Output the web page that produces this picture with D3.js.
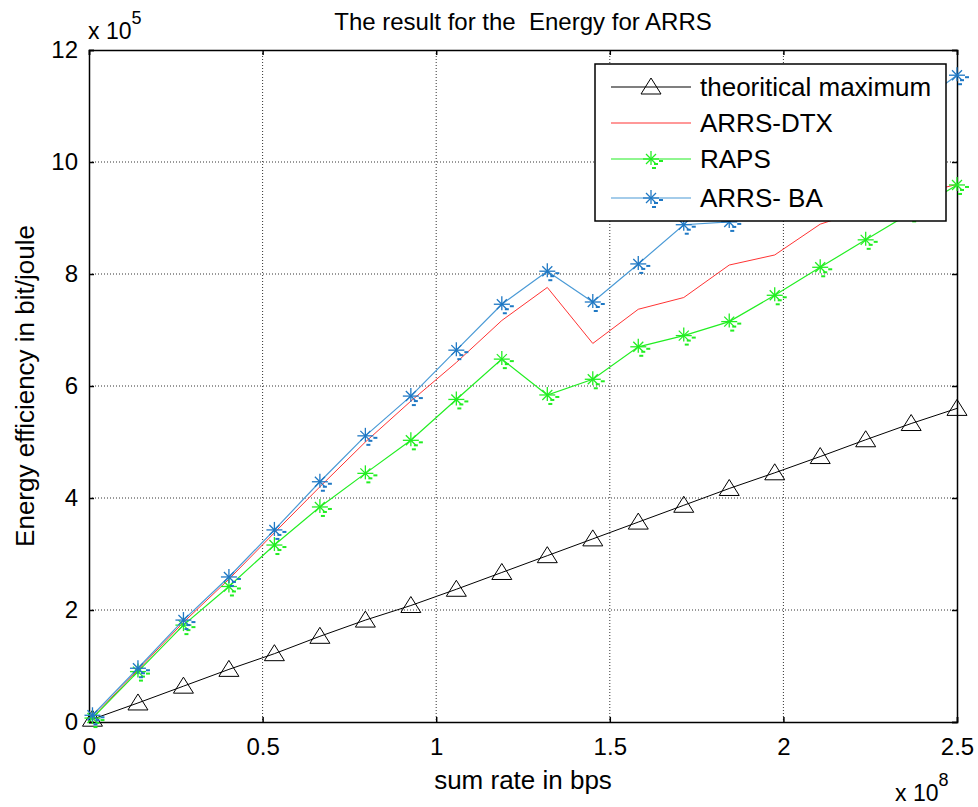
<!DOCTYPE html>
<html>
<head>
<meta charset="utf-8">
<script src="https://cdn.jsdelivr.net/npm/d3@7"></script>
<style>
  body { margin: 0; background: #fff; }
  text { font-family: "Liberation Sans", Arial, sans-serif; fill: #000; }
</style>
</head>
<body>
<div id="chart"></div>
<script>
// sum rate (x 1e8 bps)
const sumRate = [0.01, 0.141, 0.272, 0.403, 0.534, 0.665, 0.796, 0.927, 1.058, 1.189,
  1.32, 1.451, 1.582, 1.713, 1.844, 1.975, 2.106, 2.237, 2.368, 2.5];
// energy efficiency (x 1e5 bit/joule)
const theoMax = [0.05, 0.34, 0.64, 0.94, 1.22, 1.53, 1.82, 2.08, 2.37, 2.67,
  2.97, 3.27, 3.57, 3.87, 4.17, 4.45, 4.74, 5.04, 5.33, 5.6];
const arrsDtx = [0.08, 0.93, 1.78, 2.55, 3.38, 4.2, 5.0, 5.73, 6.42, 7.17,
  7.76, 6.76, 7.37, 7.58, 8.16, 8.34, 8.89, 9.15, 9.4, 9.6];
const raps = [0.07, 0.9, 1.73, 2.42, 3.16, 3.84, 4.44, 5.03, 5.76, 6.48,
  5.84, 6.12, 6.7, 6.9, 7.15, 7.62, 8.12, 8.61, 9.1, 9.59];
const arrsBa = [0.12, 0.96, 1.82, 2.59, 3.43, 4.29, 5.11, 5.82, 6.64, 7.46,
  8.05, 7.5, 8.18, 8.88, 8.93, 9.5, 10.0, 10.5, 10.95, 11.55];

const xTicks = [0, 0.5, 1, 1.5, 2, 2.5];
const yTicks = [0, 2, 4, 6, 8, 10, 12];
const seriesNames = ["theoritical maximum", "ARRS-DTX", "RAPS", "ARRS- BA"];

const W = 978, H = 807;
const margin = { top: 50, right: 21, bottom: 85, left: 89 },
  width = W - margin.left - margin.right,
  height = H - margin.top - margin.bottom;

const svgRoot = d3.select("#chart").append("svg")
  .attr("width", W).attr("height", H);
const svg = svgRoot.append("g")
  .attr("transform", "translate(" + margin.left + "," + margin.top + ")");

const x = d3.scaleLinear().domain([0, 2.5]).range([0, width]);
const y = d3.scaleLinear().domain([0, 12]).range([height, 0]);

// grid
svg.append("g").selectAll("line").data(xTicks.slice(1, -1)).enter().append("line")
  .attr("x1", d => x(d)).attr("x2", d => x(d)).attr("y1", 0).attr("y2", height)
  .attr("stroke", "#333").attr("stroke-width", 1).attr("stroke-dasharray", "1,2");
svg.append("g").selectAll("line").data(yTicks.slice(1, -1)).enter().append("line")
  .attr("y1", d => y(d)).attr("y2", d => y(d)).attr("x1", 0).attr("x2", width)
  .attr("stroke", "#333").attr("stroke-width", 1).attr("stroke-dasharray", "1,2");

// axes with inward ticks
const fmt = d => String(d);
svg.append("g").attr("transform", "translate(0," + height + ")")
  .call(d3.axisBottom(x).tickValues(xTicks).tickFormat(fmt).tickSize(-5).tickPadding(16));
svg.append("g")
  .call(d3.axisLeft(y).tickValues(yTicks).tickFormat(fmt).tickSize(-5).tickPadding(11));
svg.append("g").call(d3.axisTop(x).tickValues(xTicks).tickFormat("").tickSize(-5));
svg.append("g").attr("transform", "translate(" + width + ",0)")
  .call(d3.axisRight(y).tickValues(yTicks).tickFormat("").tickSize(-5));
svg.selectAll(".domain").attr("stroke", "#000").attr("stroke-width", 1.5);
svg.selectAll(".tick line").attr("stroke", "#000").attr("stroke-width", 1.5);
svg.selectAll(".tick text").style("font-family", "Liberation Sans, Arial, sans-serif")
  .style("font-size", "24px").attr("fill", "#000");

const line = d3.line().x((d, i) => x(sumRate[i])).y(d => y(d));

const plot = svg.append("g");

function drawStar(g, cx, cy, color) {
  const s = g.append("g").attr("transform", "translate(" + cx + "," + cy + ")")
    .attr("stroke", color).attr("stroke-width", 1.3);
  s.append("line").attr("x1", -8).attr("x2", 8).attr("y1", 0).attr("y2", 0);
  s.append("line").attr("x1", 0).attr("x2", 0).attr("y1", -8).attr("y2", 6);
  s.append("line").attr("x1", -5).attr("x2", 5).attr("y1", -5).attr("y2", 5);
  s.append("line").attr("x1", -5).attr("x2", 5).attr("y1", 5).attr("y2", -5);
  s.append("line").attr("x1", 8).attr("x2", 12).attr("y1", 2).attr("y2", 2).attr("stroke-width", 2);
  s.append("line").attr("x1", 3).attr("x2", 7).attr("y1", 5).attr("y2", 5).attr("stroke-width", 2);
  s.append("line").attr("x1", 1).attr("x2", 5).attr("y1", 9).attr("y2", 9).attr("stroke-width", 2);
}
function drawTri(g, cx, cy) {
  g.append("path").attr("d", "M" + cx + "," + (cy - 9) + "L" + (cx + 10) + "," + (cy + 7) +
    "L" + (cx - 10) + "," + (cy + 7) + "Z")
    .attr("fill", "none").attr("stroke", "#000").attr("stroke-width", 1);
}

// theoretical maximum
plot.append("path").datum(theoMax).attr("d", line)
  .attr("fill", "none").attr("stroke", "#000").attr("stroke-width", 1);
theoMax.forEach((v, i) => drawTri(plot, x(sumRate[i]), y(v)));

// ARRS-DTX
plot.append("path").datum(arrsDtx).attr("d", line)
  .attr("fill", "none").attr("stroke", "#ff3333").attr("stroke-width", 1);

// RAPS
plot.append("path").datum(raps).attr("d", line)
  .attr("fill", "none").attr("stroke", "#22ee22").attr("stroke-width", 1.2);
raps.forEach((v, i) => drawStar(plot, x(sumRate[i]), y(v), "#22ee22"));

// ARRS- BA
plot.append("path").datum(arrsBa).attr("d", line)
  .attr("fill", "none").attr("stroke", "#4a9ad6").attr("stroke-width", 1.2);
arrsBa.forEach((v, i) => drawStar(plot, x(sumRate[i]), y(v), "#1f78c4"));

// legend
const lg = svgRoot.append("g").attr("transform", "translate(595,64)");
lg.append("rect").attr("width", 351).attr("height", 157)
  .attr("fill", "#fff").attr("stroke", "#000").attr("stroke-width", 1.5);
const rowY = [23, 59, 95, 134];
const lcol = ["#000", "#ff3333", "#22ee22", "#4a9ad6"];
seriesNames.forEach((name, i) => {
  lg.append("line").attr("x1", 16).attr("x2", 96).attr("y1", rowY[i]).attr("y2", rowY[i])
    .attr("stroke", lcol[i]).attr("stroke-width", 1.2);
  if (i === 0) drawTri(lg, 56, rowY[i]);
  if (i === 2) drawStar(lg, 56, rowY[i], "#22ee22");
  if (i === 3) drawStar(lg, 56, rowY[i], "#1f78c4");
  lg.append("text").attr("x", 105).attr("y", rowY[i] + 9)
    .style("font-size", "26px").text(name);
});

// title and labels
svgRoot.append("text").attr("x", margin.left + width / 2).attr("y", 30)
  .attr("text-anchor", "middle").style("font-size", "24px")
  .style("white-space", "pre")
  .text("The result for the  Energy for ARRS");
svgRoot.append("text").attr("x", margin.left + width / 2).attr("y", 789)
  .attr("text-anchor", "middle").style("font-size", "26px").text("sum rate in bps");
svgRoot.append("text").attr("transform", "translate(34," + (margin.top + height / 2) + ") rotate(-90)")
  .attr("text-anchor", "middle").style("font-size", "26px").text("Energy efficiency in bit/joule");

// exponent labels
const e5 = svgRoot.append("text").attr("x", 88).attr("y", 39).style("font-size", "23px");
e5.append("tspan").text("x 10");
e5.append("tspan").attr("dy", -15).style("font-size", "18px").text("5");
const e8 = svgRoot.append("text").attr("x", 895).attr("y", 801).style("font-size", "23px");
e8.append("tspan").text("x 10");
e8.append("tspan").attr("dy", -15).style("font-size", "18px").text("8");
</script>
</body>
</html>
